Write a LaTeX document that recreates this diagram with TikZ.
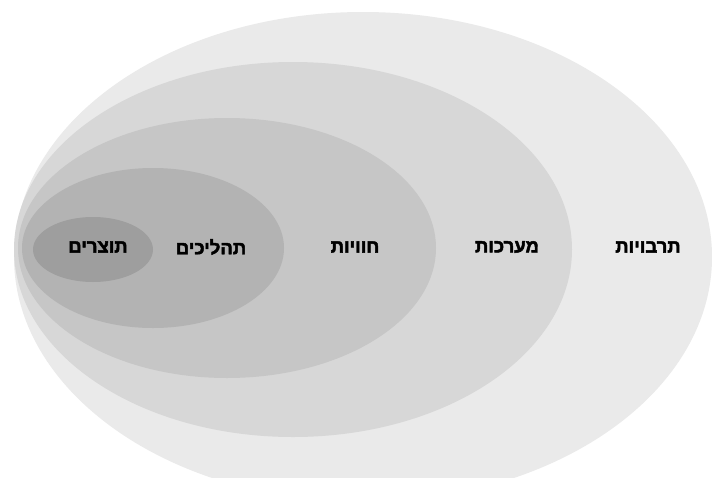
\documentclass[tikz,border=0pt]{standalone}
\usepackage{fontspec}
\setmainfont{Liberation Sans}
\newfontfamily\hebbold[Script=Hebrew,FakeBold=2.5]{Liberation Sans Bold}
\TeXXeTstate=1
\begin{document}
\begin{tikzpicture}[x=1pt,y=-1pt,
  lbl/.style={font=\hebbold\fontsize{18.5}{22}\selectfont, text=black, inner sep=0pt, anchor=center}]
\useasboundingbox (0,0) rectangle (712,477);
\clip (0,0) rectangle (712,477);
\fill[white] (0,0) rectangle (712,477);
\definecolor{c1}{HTML}{EAEAEA}
\definecolor{c2}{HTML}{D7D7D7}
\definecolor{c3}{HTML}{C6C6C6}
\definecolor{c4}{HTML}{B3B3B3}
\definecolor{c5}{HTML}{9E9E9E}
\fill[c1] (363,257) ellipse [x radius=349, y radius=245];
\fill[c2] (293,249.5) ellipse [x radius=279, y radius=187.5];
\fill[c3] (227,248) ellipse [x radius=209, y radius=130];
\fill[c4] (153,248) ellipse [x radius=131, y radius=80];
\fill[c5] (93,249.5) ellipse [x radius=60, y radius=32.5];
\node[lbl] (t5) at (98,247) {\beginR תוצרים\endR};
\node[lbl] (t4) at (211,247) {\beginR תהליכים\endR};
\node[lbl] (t3) at (355,247) {\beginR חוויות\endR};
\node[lbl] (t2) at (507,247) {\beginR מערכות\endR};
\node[lbl] (t1) at (648,247) {\beginR תרבויות\endR};
\end{tikzpicture}
\end{document}
